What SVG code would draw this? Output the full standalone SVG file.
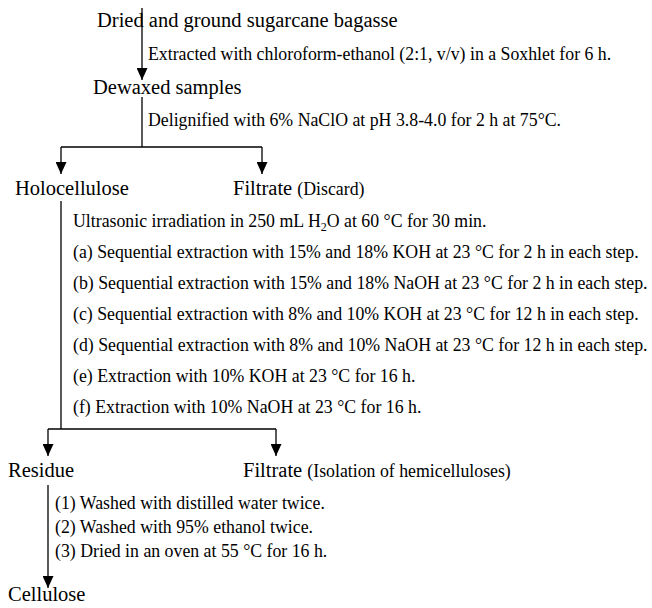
<svg xmlns="http://www.w3.org/2000/svg" width="652" height="608" viewBox="0 0 652 608">
<defs>
<style>
text{font-family:"Liberation Serif","Times New Roman",serif;fill:#000}
.main{font-size:20.5px}
.sub{font-size:17.8px}
.ln{stroke:#000;stroke-width:1.3;fill:none}
</style>
<marker id="ah" viewBox="0 0 12 11" refX="12" refY="5.5" markerWidth="12" markerHeight="11" markerUnits="userSpaceOnUse" orient="auto">
<path d="M0,0 L12,5.5 L0,11 z" fill="#000"/>
</marker>
</defs>
<rect width="652" height="608" fill="#fff"/>
<g id="connectors">
<line class="ln" x1="142" y1="8" x2="142" y2="80" marker-end="url(#ah)"/>
<line class="ln" x1="142" y1="97" x2="142" y2="147"/>
<line class="ln" x1="61" y1="147" x2="262" y2="147"/>
<line class="ln" x1="61" y1="147" x2="61" y2="174" marker-end="url(#ah)"/>
<line class="ln" x1="262" y1="147" x2="262" y2="174" marker-end="url(#ah)"/>
<line class="ln" x1="61" y1="201" x2="61" y2="429"/>
<line class="ln" x1="48" y1="429" x2="276" y2="429"/>
<line class="ln" x1="48" y1="429" x2="48" y2="456" marker-end="url(#ah)"/>
<line class="ln" x1="276" y1="429" x2="276" y2="456" marker-end="url(#ah)"/>
<line class="ln" x1="48" y1="485" x2="48" y2="588" marker-end="url(#ah)"/>
</g>
<g id="bagasse"><text class="main" x="97" y="27">Dried and ground sugarcane bagasse</text></g>
<g id="step1"><text class="sub" x="148" y="60">Extracted with chloroform-ethanol (2:1, v/v) in a Soxhlet for 6 h.</text></g>
<g id="dewaxed"><text class="main" x="93" y="94">Dewaxed samples</text></g>
<g id="step2"><text class="sub" x="148" y="126">Delignified with 6% NaClO at pH 3.8-4.0 for 2 h at 75°C.</text></g>
<g id="holocellulose"><text class="main" x="15" y="195">Holocellulose</text></g>
<g id="filtrate1"><text class="main" x="233" y="195">Filtrate <tspan class="sub">(Discard)</tspan></text></g>
<g id="step3">
<text class="sub" x="73" y="227">Ultrasonic irradiation in 250 mL H<tspan font-size="12" dy="4">2</tspan><tspan dy="-4">O at 60 °C for 30 min.</tspan></text>
<text class="sub" x="73" y="258">(a) Sequential extraction with 15% and 18% KOH at 23 °C for 2 h in each step.</text>
<text class="sub" x="73" y="289">(b) Sequential extraction with 15% and 18% NaOH at 23 °C for 2 h in each step.</text>
<text class="sub" x="73" y="320">(c) Sequential extraction with 8% and 10% KOH at 23 °C for 12 h in each step.</text>
<text class="sub" x="73" y="351">(d) Sequential extraction with 8% and 10% NaOH at 23 °C for 12 h in each step.</text>
<text class="sub" x="73" y="382">(e) Extraction with 10% KOH at 23 °C for 16 h.</text>
<text class="sub" x="73" y="413">(f) Extraction with 10% NaOH at 23 °C for 16 h.</text>
</g>
<g id="residue"><text class="main" x="8" y="477">Residue</text></g>
<g id="filtrate2"><text class="main" x="243" y="477">Filtrate <tspan class="sub">(Isolation of hemicelluloses)</tspan></text></g>
<g id="step4">
<text class="sub" x="55" y="509">(1) Washed with distilled water twice.</text>
<text class="sub" x="55" y="533">(2) Washed with 95% ethanol twice.</text>
<text class="sub" x="55" y="557">(3) Dried in an oven at 55 °C for 16 h.</text>
</g>
<g id="cellulose"><text class="main" x="8" y="601">Cellulose</text></g>
</svg>
